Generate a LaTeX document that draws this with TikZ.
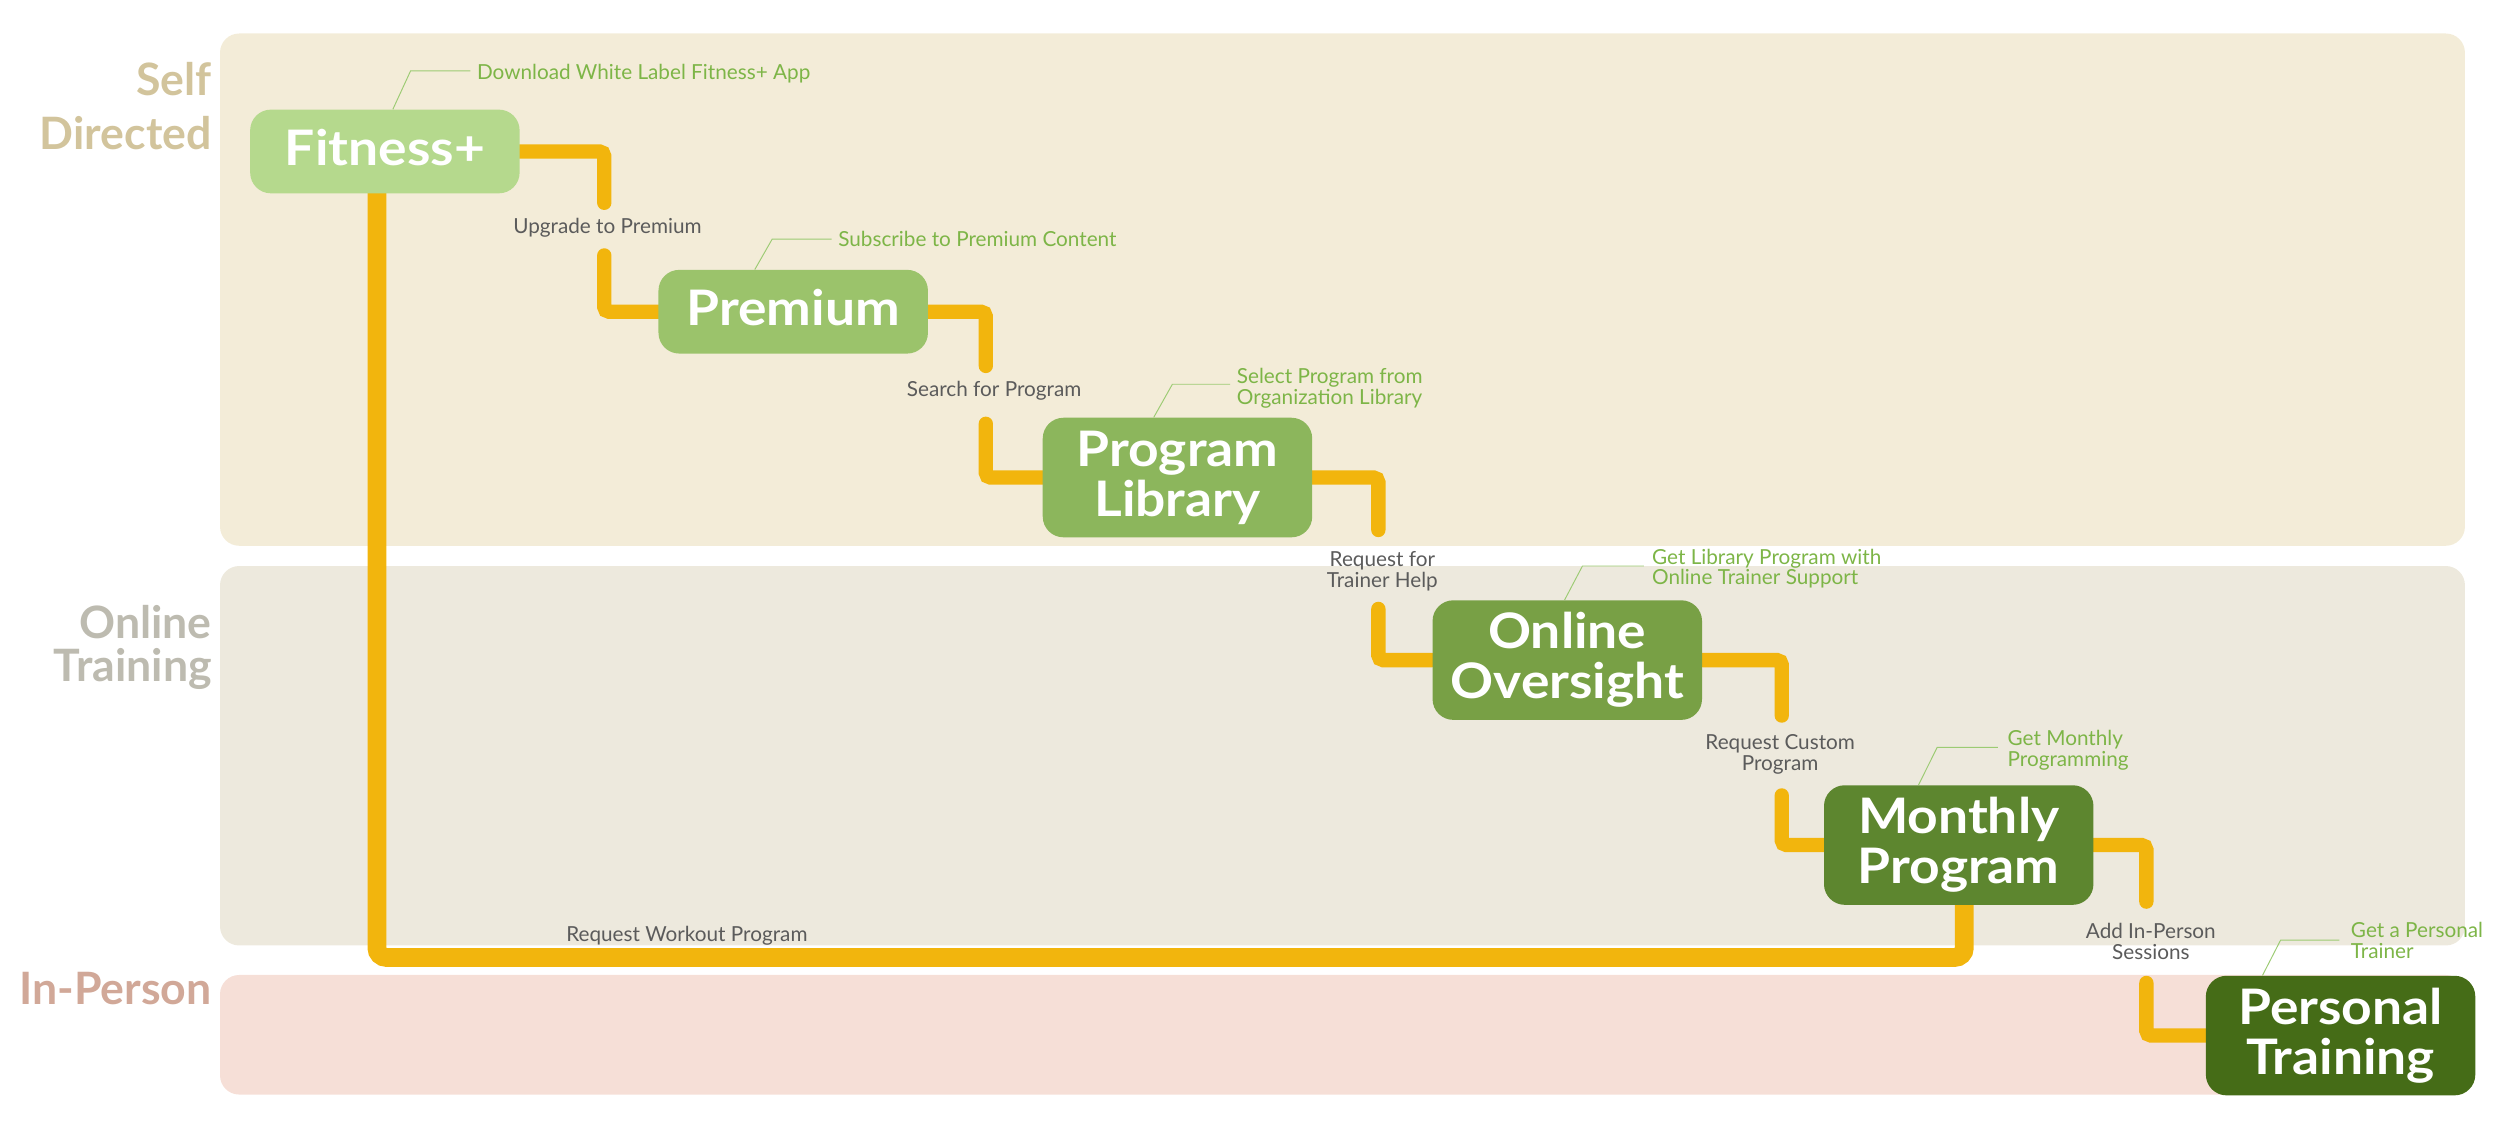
\documentclass[tikz,border=0pt]{standalone}
\usepackage{fontspec}
\setmainfont{Lato}
\newfontfamily\boxfont{Lato}[FakeStretch=1.09]
\usetikzlibrary{calc}
\pgfdeclarelayer{back}
\pgfdeclarelayer{mid}
\pgfsetlayers{back,mid,main}
\definecolor{ylw}{HTML}{F2B50D}
\definecolor{bself}{HTML}{F3ECD8}
\definecolor{bonl}{HTML}{EDE9DD}
\definecolor{bper}{HTML}{F6DFD7}
\definecolor{tself}{HTML}{D2C49C}
\definecolor{tonl}{HTML}{BDBBB0}
\definecolor{tper}{HTML}{D1A898}
\definecolor{gA}{HTML}{B5D98D}
\definecolor{gB}{HTML}{9BC36B}
\definecolor{gC}{HTML}{8CB65C}
\definecolor{gD}{HTML}{78A045}
\definecolor{gE}{HTML}{5D862F}
\definecolor{gF}{HTML}{456C17}
\definecolor{callg}{HTML}{7DB547}
\definecolor{leadg}{HTML}{9CCB73}
\definecolor{labgray}{HTML}{5B5B5B}
\tikzset{
  box/.style={rounded corners=13pt, minimum width=169pt, inner sep=0pt, text=white,
    font=\boxfont\fontsize{30.7}{31.5}\selectfont\bfseries, align=center},
  boxone/.style={box, minimum height=52.5pt, text depth=5pt},
  boxtwo/.style={box, minimum height=75pt},
  bandlab/.style={font=\fontsize{28}{33.5}\selectfont\bfseries, align=right, anchor=base east, inner sep=0pt},
  lab/.style={font=\fontsize{13}{13.1}\selectfont, text=labgray, align=center, inner sep=0pt, anchor=base},
  callout/.style={font=\fontsize{13}{13.1}\selectfont, text=callg, align=left, inner sep=0pt, anchor=base west},
  conn/.style={draw=ylw, line width=9pt, line cap=round, rounded corners=3pt},
  longconn/.style={draw=ylw, line width=11.8pt, rounded corners=6pt},
  lead/.style={draw=leadg, line width=0.6pt}
}
\begin{document}
\begin{tikzpicture}[x=1pt,y=-1pt]
\useasboundingbox (0,0) rectangle (1568,712.5);
% bands
\begin{pgfonlayer}{back}
\fill[bself, rounded corners=12pt] (138,21) rectangle (1546,342.3);
\fill[bonl, rounded corners=12pt] (138,355) rectangle (1546,593);
\fill[bper, rounded corners=12pt] (138,611.5) rectangle (1546,686.5);
\end{pgfonlayer}
% band labels (anchor at baseline of last line)
\node[bandlab, text=tself] (lself) at (133,93.7) {Self\\Directed};
\node[bandlab, text=tonl, font=\fontsize{28}{27.1}\selectfont\bfseries] (lonl) at (133,427.5) {Online\\Training};
\node[bandlab, text=tper] (lper) at (133,629.7) {In-Person};
% boxes
\node[boxone, fill=gA] (fit) at (241.4,95) {Fitness+};
\node[boxone, fill=gB] (prem) at (497.5,195.5) {Premium};
\node[boxtwo, fill=gC] (lib) at (738.5,299.5) {Program\\Library};
\node[boxtwo, fill=gD] (onl) at (983,414) {Online\\Oversight};
\node[boxtwo, fill=gE] (mon) at (1228.5,530) {Monthly\\Program};
\node[boxtwo, fill=gF] (per) at (1468,649.5) {Personal\\Training};
% connector labels
\node[lab] (l1) at (381,146.4) {Upgrade to Premium};
\node[lab] (l2) at (623.5,248.8) {Search for Program};
\node[lab] (l3) at (867,368.4) {Request for\\Trainer Help};
\node[lab] (l4) at (1116.5,483) {Request Custom\\Program};
\node[lab] (l5) at (1349,601.7) {Add In-Person\\Sessions};
\node[lab] (l6) at (430.8,590.6) {Request Workout Program};
% callouts
\node[callout] (c1) at (299,49.8) {Download White Label Fitness+ App};
\node[callout] (c2) at (525.6,154.7) {Subscribe to Premium Content};
\node[callout] (c3) at (775.6,253.4) {Select Program from\\Organization Library};
\node[callout] (c4) at (1036,366.9) {Get Library Program with\\Online Trainer Support};
\node[callout] (c5) at (1259,480.9) {Get Monthly\\Programming};
\node[callout] (c6) at (1474.3,601.3) {Get a Personal\\Trainer};
% leader corners
\coordinate (k1) at (257.5,44.5);
\coordinate (k2) at (484.3,150);
\coordinate (k3) at (735.3,241);
\coordinate (k4) at (992.5,355);
\coordinate (k5) at (1215,468.7);
\coordinate (k6) at (1430.4,589.6);
\draw[lead] ($(fit.north west)+(89.7,0)$) -- (k1) -- ($(k1 -| c1.west)+(-4,0)$);
\draw[lead] ($(prem.north west)+(60.6,0)$) -- (k2) -- ($(k2 -| c2.west)+(-4,0)$);
\draw[lead] ($(lib.north west)+(69.8,0)$) -- (k3) -- ($(k3 -| c3.west)+(-4,0)$);
\draw[lead] ($(onl.north west)+(83,0)$) -- (k4) -- ($(k4 -| c4.west)+(-5,0)$);
\draw[lead] ($(mon.north west)+(59.5,0)$) -- (k5) -- ($(k5 -| c5.west)+(-6,0)$);
\draw[lead] ($(per.north west)+(35.7,0)$) -- (k6) -- ($(k6 -| c6.west)+(-7,0)$);
% connectors
\coordinate (a1) at (379,127.2);     \coordinate (b1) at (379,160.2);
\coordinate (a2) at (618.3,229.5);   \coordinate (b2) at (618.3,265.8);
\coordinate (a3) at (864.5,332.4);   \coordinate (b3) at (864.5,381.9);
\coordinate (a4) at (1117.5,448.8);  \coordinate (b4) at (1117.5,498.9);
\coordinate (a5) at (1346.2,565.5);  \coordinate (b5) at (1346.2,616.5);
\coordinate (lowy) at (0,600.5);
\coordinate (fitS) at ($(fit.center)+(-5,0)$);
\coordinate (monS) at ($(mon.center)+(3.5,0)$);
\begin{pgfonlayer}{mid}
\draw[conn] (fit.east) -| (a1);
\draw[conn] (b1) |- (prem.west);
\draw[conn] (prem.east) -| (a2);
\draw[conn] (b2) |- (lib.west);
\draw[conn] (lib.east) -| (a3);
\draw[conn] (b3) |- (onl.west);
\draw[conn] (onl.east) -| (a4);
\draw[conn] (b4) |- (mon.west);
\draw[conn] (mon.east) -| (a5);
\draw[conn] (b5) |- (per.west);
\draw[longconn] (fitS) -- (fitS |- lowy) -- (monS |- lowy) -- (monS);
\end{pgfonlayer}
\end{tikzpicture}
\end{document}
